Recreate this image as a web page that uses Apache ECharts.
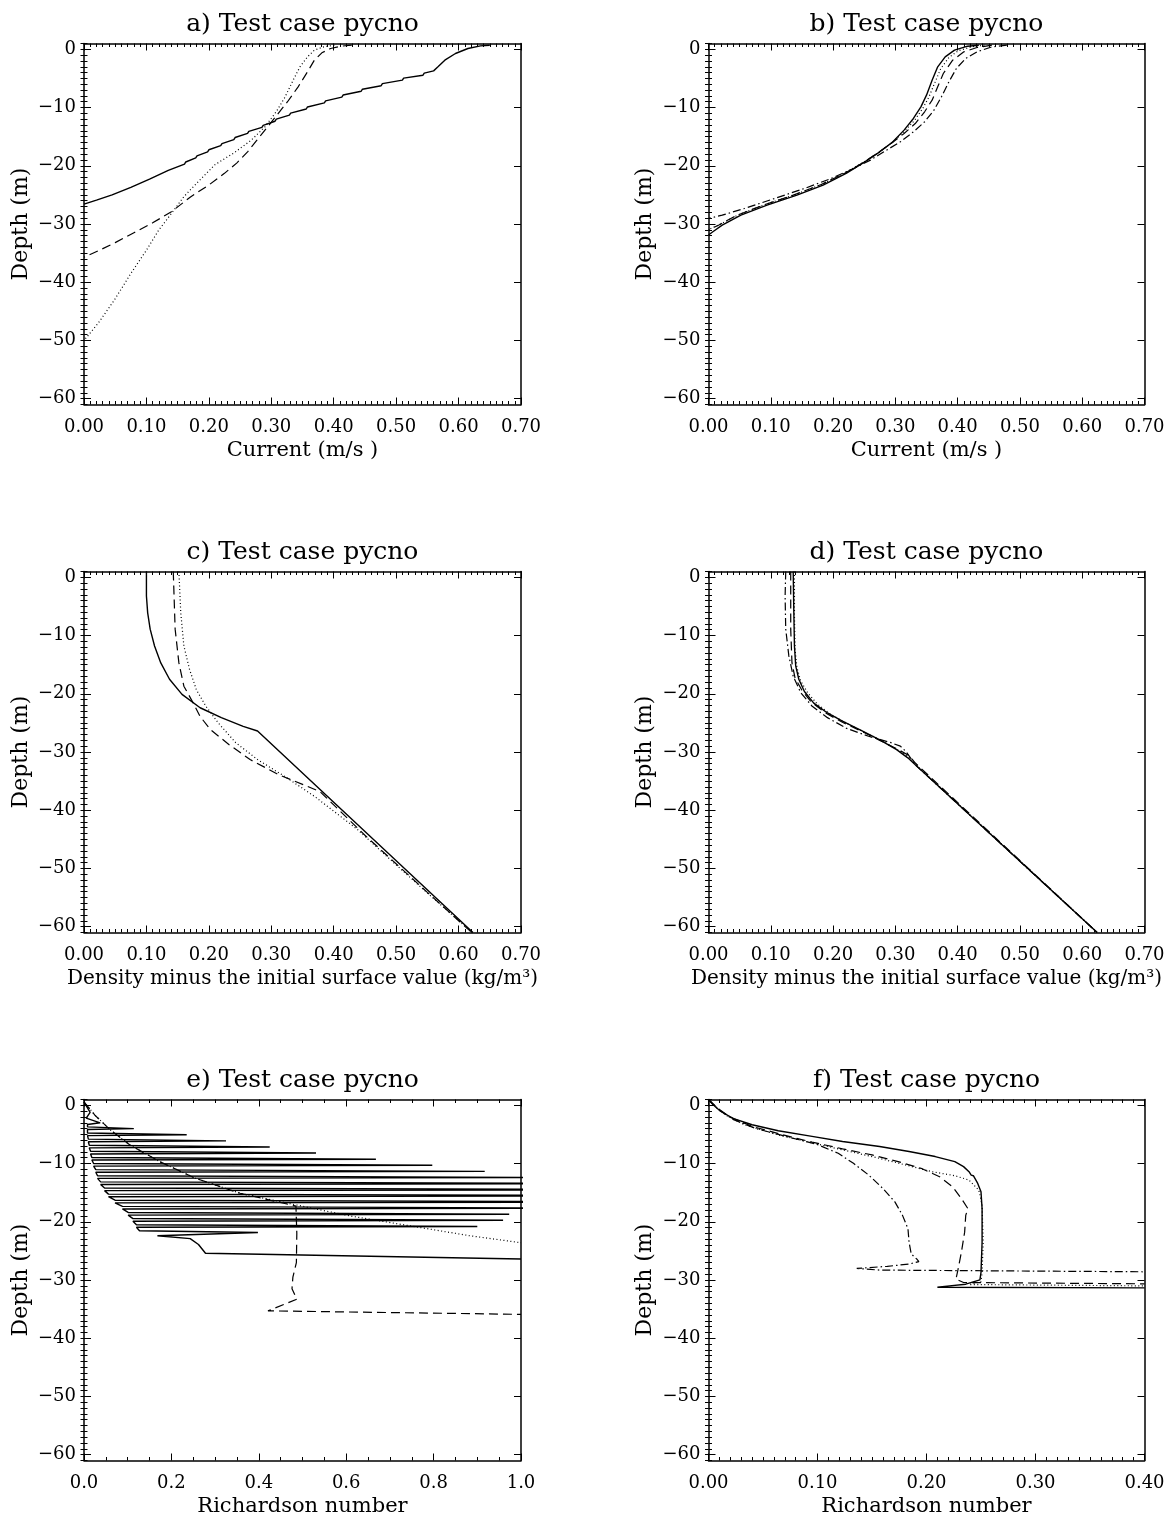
<!DOCTYPE html>
<html><head><meta charset="utf-8">
<script src="https://cdn.jsdelivr.net/npm/echarts@6/dist/echarts.min.js"></script>
<style>html,body{margin:0;padding:0;background:#fff;}#c{width:1167px;height:1522px;}</style>
</head><body><div id="c"></div>
<script>
// ---------- tick labels ----------
const depthTicks = [-60, -50, -40, -30, -20, -10, 0];
const depthRange = [-61, 1];
const currentRange = [0, 0.7];
const riRangeE = [0, 1.0];
const riRangeF = [0, 0.4];

// ---------- panel a: current [value, depth] ----------
const aSolid = [[0.650,0.7],[0.635,0.6],[0.615,0.14],[0.595,-0.72],[0.578,-1.86],[0.567,-3.0],[0.560,-3.7],
 [0.545,-4.1],[0.543,-4.45],[0.512,-4.95],[0.510,-5.3],[0.478,-5.9],[0.476,-6.25],[0.446,-6.85],[0.444,-7.2],
 [0.415,-7.85],[0.413,-8.2],[0.387,-8.85],[0.385,-9.2],[0.358,-9.9],[0.356,-10.25],[0.331,-10.95],[0.329,-11.3],
 [0.308,-12.0],[0.306,-12.35],[0.287,-13.05],[0.285,-13.4],[0.264,-14.1],[0.262,-14.45],[0.242,-15.15],[0.240,-15.5],
 [0.221,-16.2],[0.219,-16.55],[0.200,-17.25],[0.198,-17.6],[0.181,-18.3],[0.179,-18.65],[0.163,-19.35],[0.161,-19.7],
 [0.135,-20.8],[0.105,-22.3],[0.075,-23.7],[0.045,-25.0],[0.02,-25.9],[0,-26.6]];
const aDashed = [[0.429,0.71],[0.412,0.54],[0.395,0.14],[0.381,-0.6],[0.369,-1.86],[0.358,-3.87],[0.343,-6.44],
 [0.326,-9.0],[0.309,-11.3],[0.292,-13.6],[0.277,-15.6],[0.262,-17.6],[0.245,-19.5],[0.225,-21.3],[0.2,-23.3],
 [0.17,-25.4],[0.14,-27.9],[0.11,-29.8],[0.08,-31.5],[0.05,-33.2],[0.025,-34.5],[0,-35.7]];
const aDotted = [[0.401,0.71],[0.384,0.43],[0.369,-0.14],[0.358,-1.29],[0.346,-3.0],[0.335,-5.3],[0.322,-8.2],
 [0.308,-10.7],[0.29,-13.3],[0.268,-15.6],[0.24,-17.8],[0.21,-19.8],[0.185,-22.5],[0.16,-25.3],[0.14,-28.2],
 [0.12,-31.0],[0.1,-34.5],[0.075,-38.5],[0.049,-43.0],[0.023,-47.0],[0,-50.0]];

// ---------- panel b: current ----------
const bSolid = [[0.434,0.71],[0.416,0.54],[0.395,-0.14],[0.380,-1.29],[0.368,-3.01],[0.359,-5.30],[0.350,-7.87],
 [0.341,-9.88],[0.329,-11.88],[0.314,-13.88],[0.296,-15.89],[0.275,-17.60],[0.251,-19.32],[0.221,-21.32],
 [0.184,-23.33],[0.142,-25.04],[0.094,-26.76],[0.052,-28.48],[0.022,-30.20],[0.007,-31.34],[0,-31.9]];
const bDotted = [[0.443,0.71],[0.422,0.43],[0.401,-0.26],[0.386,-1.40],[0.373,-3.29],[0.364,-5.58],[0.354,-8.16],
 [0.344,-10.16],[0.331,-12.17],[0.314,-14.17],[0.296,-15.89],[0.275,-17.60],[0.249,-19.38],[0.219,-21.21],
 [0.183,-23.16],[0.139,-24.93],[0.091,-26.65],[0.049,-28.37],[0.019,-30.03],[0,-30.95]];
const bDashed = [[0.455,0.71],[0.431,0.31],[0.410,-0.43],[0.392,-1.86],[0.377,-4.15],[0.368,-6.44],[0.359,-8.73],
 [0.347,-10.73],[0.332,-12.74],[0.314,-14.46],[0.293,-16.17],[0.272,-17.77],[0.248,-19.49],[0.218,-21.32],
 [0.181,-23.21],[0.136,-25.04],[0.088,-26.76],[0.046,-28.48],[0.016,-30.20],[0,-31.06]];
const bDashDot = [[0.479,0.71],[0.455,0.43],[0.431,-0.43],[0.413,-1.58],[0.398,-3.29],[0.386,-5.58],[0.374,-8.16],
 [0.362,-10.45],[0.347,-12.45],[0.329,-14.17],[0.308,-15.89],[0.284,-17.43],[0.260,-19.03],[0.233,-20.47],
 [0.197,-22.18],[0.154,-23.90],[0.106,-25.62],[0.058,-27.33],[0.022,-28.48],[0,-29.05]];

// ---------- panel c: density anomaly ----------
const cSolid = [[0.100,1.0],[0.100,-3.2],[0.102,-6.1],[0.106,-8.9],[0.113,-11.8],[0.123,-14.7],[0.137,-17.5],
 [0.157,-20.1],[0.186,-22.4],[0.220,-24.1],[0.255,-25.6],[0.278,-26.4],[0.623,-61.0]];
const cDashed = [[0.143,1.0],[0.146,-8.9],[0.152,-14.7],[0.160,-18.7],[0.175,-21.6],[0.186,-23.9],[0.203,-26.2],
 [0.232,-28.7],[0.266,-31.3],[0.312,-33.9],[0.358,-35.9],[0.378,-36.8],[0.45,-44.3],[0.55,-54.1],[0.621,-61.0]];
const cDotted = [[0.152,1.0],[0.155,-6.1],[0.160,-11.8],[0.169,-15.8],[0.180,-19.3],[0.195,-22.1],[0.215,-25.0],
 [0.243,-28.4],[0.278,-31.3],[0.323,-34.3],[0.369,-37.6],[0.438,-43.3],[0.495,-48.9],[0.552,-54.4],[0.622,-61.0]];

// ---------- panel d: density anomaly ----------
const dSolid = [[0.136,1.0],[0.137,-6.06],[0.138,-11.8],[0.140,-15.2],[0.145,-17.5],[0.154,-19.6],[0.169,-21.6],
 [0.191,-23.3],[0.215,-24.7],[0.245,-26.3],[0.275,-27.9],[0.302,-29.6],[0.320,-31.0],[0.332,-32.2],[0.624,-61.0]];
const dDotted = [[0.138,1.0],[0.138,-6.6],[0.139,-12.4],[0.142,-15.5],[0.148,-17.8],[0.159,-19.8],[0.175,-21.8],
 [0.197,-23.6],[0.224,-25.2],[0.254,-26.8],[0.284,-28.4],[0.311,-30.1],[0.326,-31.3],[0.332,-32.1],[0.624,-61.0]];
const dDashed = [[0.132,1.0],[0.132,-8.9],[0.134,-14.7],[0.139,-17.3],[0.150,-19.4],[0.165,-21.4],[0.188,-23.3],
 [0.215,-24.9],[0.245,-26.4],[0.275,-28.0],[0.305,-29.6],[0.323,-30.7],[0.332,-31.9],[0.624,-61.0]];
const dDashDot = [[0.124,1.0],[0.123,-3.2],[0.124,-8.9],[0.129,-13.5],[0.136,-17.0],[0.148,-19.8],[0.166,-22.1],
 [0.191,-24.1],[0.221,-25.9],[0.257,-27.3],[0.293,-28.4],[0.308,-29.0],[0.317,-29.9],[0.332,-32.2],[0.624,-61.0]];

// ---------- panel e: Richardson number ----------
const eSolid = [[0.0,0.6],[0.014,-1.2],[0.005,-2.2],[0.037,-3.0],[0.008,-3.3],
 [0.008,-3.7],[0.114,-4.0],[0.008,-4.15],
 [0.008,-4.75],[0.235,-5.05],[0.008,-5.2],
 [0.010,-5.8],[0.325,-6.1],[0.010,-6.25],
 [0.012,-6.85],[0.425,-7.15],[0.012,-7.3],
 [0.015,-7.9],[0.531,-8.2],[0.015,-8.35],
 [0.018,-8.95],[0.668,-9.25],[0.018,-9.4],
 [0.022,-10.0],[0.797,-10.3],[0.022,-10.45],
 [0.027,-11.05],[0.917,-11.35],[0.027,-11.5],
 [0.031,-12.1],[1.08,-12.4],[0.031,-12.55],
 [0.038,-13.15],[1.25,-13.45],[0.038,-13.6],
 [0.047,-14.2],[1.4,-14.5],[0.047,-14.65],
 [0.056,-15.25],[1.45,-15.55],[0.056,-15.7],
 [0.071,-16.3],[1.3,-16.6],[0.071,-16.75],
 [0.088,-17.35],[1.12,-17.65],[0.088,-17.8],
 [0.101,-18.4],[0.973,-18.7],[0.101,-18.85],
 [0.112,-19.45],[0.959,-19.75],[0.112,-19.9],
 [0.120,-20.5],[0.900,-20.8],[0.120,-20.95],
 [0.127,-21.55],[0.398,-21.85],[0.168,-22.4],
 [0.243,-22.9],[0.262,-23.9],[0.278,-25.4],[1.0,-26.4]];
const eDotted = [[0,0.6],[0.025,-1.7],[0.06,-4.2],[0.105,-6.8],[0.174,-9.7],[0.254,-12.5],[0.357,-15.1],
 [0.485,-17.1],[0.609,-19.0],[0.746,-20.7],[0.883,-22.4],[1.0,-23.6]];
const eDashed = [[0,0.6],[0.025,-1.7],[0.06,-4.2],[0.105,-6.8],[0.174,-9.7],[0.254,-12.5],[0.357,-15.1],
 [0.485,-17.3],[0.487,-22.0],[0.486,-27.0],[0.478,-29.5],[0.476,-31.5],[0.487,-33.3],[0.421,-35.3],[1.0,-35.9]];

// ---------- panel f: Richardson number ----------
const fSolid = [[0,1.0],[0.004,0.13],[0.011,-1.02],[0.023,-2.29],[0.040,-3.33],[0.064,-4.36],[0.095,-5.34],
 [0.123,-6.21],[0.157,-7.07],[0.184,-7.94],[0.208,-8.80],[0.226,-9.67],[0.234,-10.53],[0.239,-11.40],
 [0.241,-11.98],[0.243,-12.09],[0.247,-13.42],[0.250,-14.86],[0.251,-17.74],[0.251,-23.51],[0.250,-28.70],
 [0.249,-29.97],[0.236,-30.72],[0.219,-31.06],[0.210,-31.24],[0.40,-31.35]];
const fDotted = [[0,1.0],[0.006,-0.15],[0.016,-1.71],[0.033,-3.33],[0.061,-4.94],[0.092,-6.32],[0.123,-7.65],
 [0.154,-8.98],[0.181,-10.25],[0.205,-11.40],[0.226,-12.09],[0.239,-12.84],[0.248,-14.57],[0.251,-17.17],
 [0.252,-23.51],[0.251,-28.70],[0.250,-30.31],[0.239,-30.78],[0.40,-31.01]];
const fDashed = [[0,1.0],[0.008,-0.44],[0.020,-2.06],[0.040,-3.61],[0.068,-5.06],[0.095,-6.32],[0.123,-7.48],
 [0.150,-8.52],[0.174,-9.67],[0.195,-10.82],[0.212,-12.26],[0.224,-14.0],[0.232,-16.01],[0.238,-17.74],
 [0.236,-18.90],[0.235,-21.78],[0.232,-25.24],[0.229,-28.12],[0.227,-29.85],[0.234,-30.43],[0.40,-30.66]];
const fDashDot = [[0,1.0],[0.009,-0.73],[0.023,-2.46],[0.044,-4.02],[0.071,-5.34],[0.099,-6.67],[0.119,-8.23],
 [0.133,-9.96],[0.147,-11.98],[0.160,-14.28],[0.171,-16.59],[0.178,-18.90],[0.183,-21.20],[0.184,-23.51],
 [0.186,-25.53],[0.191,-26.39],[0.193,-26.85],[0.184,-27.26],[0.164,-27.66],[0.136,-28.01],[0.157,-28.30],[0.40,-28.59]];

// ---------- styling ----------
const FONT = 'DejaVu Serif';
const LS = { solid: 'solid', dashed: [9, 5], dotted: [1, 2.5], dashdot: [8, 3, 1.5, 3] };
const titleText = 'Test case pycno';
const densityName = 'Density minus the initial surface value (kg/m\u00b3)';

const colX = [84, 708.5], colW = [437, 436];
const rowY = [43.5, 571.5, 1099.5], rowH = 361;

const panels = [
  { lab: 'a', col: 0, row: 0, xr: currentRange, xInt: 0.1, xMinor: 10, xDec: 2, xName: 'Current (m/s )', nfs: 21,
    s: [[aSolid,'solid'],[aDashed,'dashed'],[aDotted,'dotted']] },
  { lab: 'b', col: 1, row: 0, xr: currentRange, xInt: 0.1, xMinor: 10, xDec: 2, xName: 'Current (m/s )', nfs: 21,
    s: [[bSolid,'solid'],[bDotted,'dotted'],[bDashed,'dashed'],[bDashDot,'dashdot']] },
  { lab: 'c', col: 0, row: 1, xr: currentRange, xInt: 0.1, xMinor: 10, xDec: 2, xName: densityName, nfs: 20,
    s: [[cSolid,'solid'],[cDashed,'dashed'],[cDotted,'dotted']] },
  { lab: 'd', col: 1, row: 1, xr: currentRange, xInt: 0.1, xMinor: 10, xDec: 2, xName: densityName, nfs: 20,
    s: [[dSolid,'solid'],[dDotted,'dotted'],[dDashed,'dashed'],[dDashDot,'dashdot']] },
  { lab: 'e', col: 0, row: 2, xr: riRangeE, xInt: 0.2, xMinor: 4, xDec: 1, xName: 'Richardson number', nfs: 21,
    s: [[eSolid,'solid'],[eDashed,'dashed'],[eDotted,'dotted']] },
  { lab: 'f', col: 1, row: 2, xr: riRangeF, xInt: 0.1, xMinor: 10, xDec: 2, xName: 'Richardson number', nfs: 21,
    s: [[fSolid,'solid'],[fDotted,'dotted'],[fDashed,'dashed'],[fDashDot,'dashdot']] }
];

const depthMinor = [];
for (let v = depthRange[0]; v <= depthRange[1]; v++) depthMinor.push(v);

const fmtNum = (v, dec) => (v < 0 ? '\u2212' : '') + Math.abs(v).toFixed(dec);
const black = '#000';
const grids = [], xAxes = [], yAxes = [], series = [], graphics = [];
const FRAME_W = 1.5;

panels.forEach((p, gi) => {
  const left = colX[p.col], top = rowY[p.row], w = colW[p.col];
  grids.push({ left: left, top: top, width: w, height: rowH, outerBoundsMode: 'none', containLabel: false });
  const xBase = {
    type: 'value', gridIndex: gi, min: p.xr[0], max: p.xr[1], interval: p.xInt,
    axisLine: { show: true, onZero: false, lineStyle: { color: black, width: FRAME_W } },
    axisTick: { show: true, inside: true, length: 7, lineStyle: { color: black, width: 1 } },
    minorTick: { show: true, splitNumber: p.xMinor, length: 3.5, lineStyle: { color: black, width: 1 } },
    splitLine: { show: false }, minorSplitLine: { show: false }
  };
  const xi = xAxes.length;
  xAxes.push(Object.assign({}, xBase, {
    position: 'bottom',
    axisLabel: { show: true, margin: 14, color: black, fontFamily: FONT, fontSize: 18,
      formatter: v => fmtNum(v, p.xDec), showMinLabel: true, showMaxLabel: true, hideOverlap: false },
    name: p.xName, nameLocation: 'middle', nameGap: 36,
    nameTextStyle: { color: black, fontFamily: FONT, fontSize: p.nfs }
  }));
  xAxes.push(Object.assign({}, xBase, { position: 'top', axisLabel: { show: false } }));

  const yBase = {
    type: 'value', gridIndex: gi, min: depthRange[0], max: depthRange[1],
    splitLine: { show: false }
  };
  const yi = yAxes.length;
  yAxes.push(Object.assign({}, yBase, {
    position: 'left',
    axisLine: { show: true, onZero: false, lineStyle: { color: black, width: FRAME_W } },
    axisTick: { show: true, inside: true, length: 7, customValues: depthTicks, lineStyle: { color: black, width: 1 } },
    axisLabel: { show: true, customValues: depthTicks, margin: 8, color: black, fontFamily: FONT, fontSize: 18,
      formatter: v => fmtNum(v, 0) },
    name: 'Depth (m)', nameLocation: 'middle', nameGap: 52,
    nameTextStyle: { color: black, fontFamily: FONT, fontSize: 22 }
  }));
  yAxes.push(Object.assign({}, yBase, {
    position: 'left', axisLine: { show: false },
    axisTick: { show: true, inside: true, length: 3.5, customValues: depthMinor, lineStyle: { color: black, width: 1 } },
    axisLabel: { show: false }
  }));
  yAxes.push(Object.assign({}, yBase, {
    position: 'right',
    axisLine: { show: true, onZero: false, lineStyle: { color: black, width: FRAME_W } },
    axisTick: { show: true, inside: true, length: 7, customValues: depthTicks, lineStyle: { color: black, width: 1 } },
    axisLabel: { show: false }
  }));
  yAxes.push(Object.assign({}, yBase, {
    position: 'right', axisLine: { show: false },
    axisTick: { show: true, inside: true, length: 3.5, customValues: depthMinor, lineStyle: { color: black, width: 1 } },
    axisLabel: { show: false }
  }));

  p.s.forEach(([data, style]) => {
    series.push({
      type: 'line', xAxisIndex: xi, yAxisIndex: yi, data: data, showSymbol: false, symbol: 'none',
      smooth: false, clip: true, silent: true,
      lineStyle: { color: black, width: style === 'solid' ? 1.4 : 1.2, type: LS[style] }
    });
  });

  graphics.push({
    type: 'text', x: left + w / 2, y: top - 19,
    style: { text: p.lab + ') ' + titleText, fill: black, font: '25px "' + FONT + '"', align: 'center', verticalAlign: 'middle' }
  });
});

const chart = echarts.init(document.getElementById('c'), null, { renderer: 'canvas' });
chart.setOption({
  backgroundColor: '#fff', animation: false,
  grid: grids, xAxis: xAxes, yAxis: yAxes, series: series, graphic: graphics
});
</script></body></html>
